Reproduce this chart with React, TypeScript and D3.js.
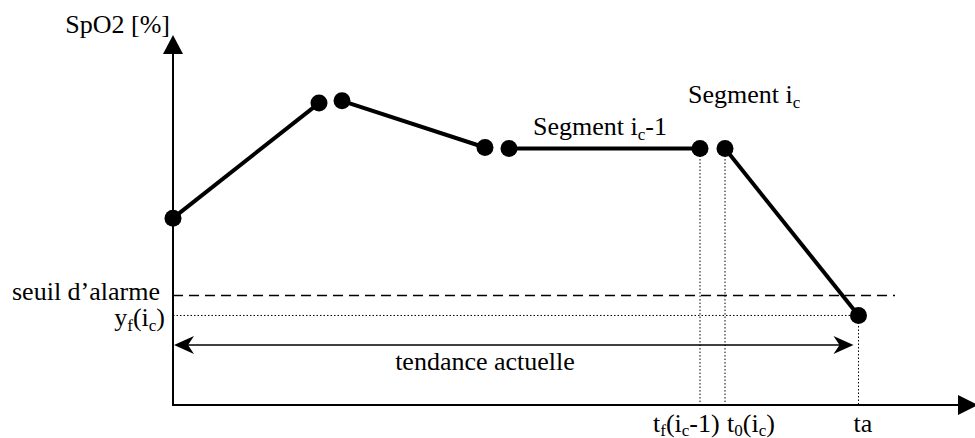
import React from "react";
import * as d3 from "d3";

// Segment endpoints (time, SpO2)
const segStartT = [0, 169, 336, 552];
const segStartY = [50.5, 82.2, 69.3, 69.3];
const segEndT = [146, 312, 527, 685.5];
const segEndY = [81.6, 69.6, 69.3, 24.2];

const alarmThreshold = 29.6;
const yfValue = 24.2;
const trendArrowY = 16.2;
const tfT = 527;
const t0T = 552;
const taT = 685.5;

const W = 975;
const H = 438;

const FONT = "serif";
const FS = 26;
const SUB = 17;

function T(props: any) {
  const { children, ...rest } = props;
  return (
    <text fontFamily={FONT} style={{ fontFamily: "'Liberation Serif', serif" }} fontSize={FS} fill="#000" {...rest}>
      {children}
    </text>
  );
}
function Sub({ children, dy }: { children: any; dy: number }) {
  return <tspan fontSize={SUB} dy={dy}>{children}</tspan>;
}
function Up({ children, dy }: { children: any; dy: number }) {
  return <tspan fontSize={FS} dy={-dy}>{children}</tspan>;
}

export default function App() {
  const x = d3.scaleLinear().domain([0, 800]).range([173, 973]);
  const y = d3.scaleLinear().domain([0, 100]).range([405, 35]);
  const line = d3.line<[number, number]>().x((d) => x(d[0])).y((d) => y(d[1]));
  const x0 = x(0);
  const yAxis = y(0);
  const yTop = y(100);

  const pts: [number, number][] = [];
  segStartT.forEach((t, i) => {
    pts.push([t, segStartY[i]]);
    pts.push([segEndT[i], segEndY[i]]);
  });

  const arrowY = y(trendArrowY);
  const leftTip = x0 + 1;
  const rightTip = x(taT) - 5;
  const openHead = (tipX: number, dir: number) => {
    const L = 20, h = 9, back = 14;
    return `M${tipX},${arrowY} L${tipX + dir * L},${arrowY - h} L${tipX + dir * back},${arrowY} L${tipX + dir * L},${arrowY + h} Z`;
  };

  return (
    <svg width={W} height={H} style={{ position: "absolute", left: 0, top: 0, background: "#fff" }}>
      {/* axes */}
      <line x1={x0} y1={yAxis} x2={x0} y2={yTop + 15} stroke="#000" strokeWidth={2} />
      <path d={`M${x0},${yTop} L${x0 - 10},${yTop + 19} L${x0 + 10},${yTop + 19} Z`} fill="#000" />
      <line x1={x0 - 1} y1={yAxis} x2={W - 10} y2={yAxis} stroke="#000" strokeWidth={2} />
      <path d={`M${W + 3},${yAxis} L${W - 17},${yAxis - 10} L${W - 17},${yAxis + 10} Z`} fill="#000" />

      {/* threshold dashed */}
      <line x1={x0} y1={y(alarmThreshold)} x2={x(722)} y2={y(alarmThreshold)} stroke="#000" strokeWidth={1.5} strokeDasharray="10,6" />
      {/* yf dotted */}
      <line x1={x0} y1={y(yfValue)} x2={x(taT)} y2={y(yfValue)} stroke="#000" strokeWidth={1} strokeDasharray="1.5,2" />
      {/* vertical dotted */}
      {[tfT, t0T].map((t, i) => (
        <line key={i} x1={x(t)} y1={y(segEndY[2])} x2={x(t)} y2={yAxis} stroke="#000" strokeWidth={1} strokeDasharray="1.5,2" />
      ))}
      <line x1={x(taT)} y1={y(yfValue)} x2={x(taT)} y2={yAxis} stroke="#000" strokeWidth={1} strokeDasharray="1.5,2" />

      {/* trend double arrow */}
      <line x1={leftTip + 10} y1={arrowY} x2={rightTip - 10} y2={arrowY} stroke="#000" strokeWidth={1.5} />
      <path d={openHead(leftTip, 1)} fill="#000" />
      <path d={openHead(rightTip, -1)} fill="#000" />

      {/* segments */}
      {segStartT.map((t, i) => (
        <path key={i} d={line([[t, segStartY[i]], [segEndT[i], segEndY[i]]]) || ""} stroke="#000" strokeWidth={4} fill="none" />
      ))}
      {pts.map((p, i) => (
        <circle key={i} cx={x(p[0])} cy={y(p[1])} r={8.5} fill="#000" />
      ))}

      {/* labels */}
      <T x={170} y={33} textAnchor="end">SpO2 [%]</T>
      <T x={533} y={135}>
        Segment i<Sub dy={5}>c</Sub><Up dy={5}>-1</Up>
      </T>
      <T x={688} y={103}>
        Segment i<Sub dy={5}>c</Sub>
      </T>
      <T x={160} y={300} textAnchor="end">seuil d’alarme</T>
      <T x={165} y={326} textAnchor="end">
        y<Sub dy={5}>f</Sub><Up dy={5}>(i</Up><Sub dy={5}>c</Sub><Up dy={5}>)</Up>
      </T>
      <T x={485} y={370} textAnchor="middle">tendance actuelle</T>
      <T x={653} y={432}>
        t<Sub dy={4}>f</Sub><Up dy={4}>(i</Up><Sub dy={4}>c</Sub><Up dy={4}>-1)</Up>
      </T>
      <T x={727} y={432}>
        t<Sub dy={4}>0</Sub><Up dy={4}>(i</Up><Sub dy={4}>c</Sub><Up dy={4}>)</Up>
      </T>
      <T x={863} y={432} textAnchor="middle">ta</T>
    </svg>
  );
}
